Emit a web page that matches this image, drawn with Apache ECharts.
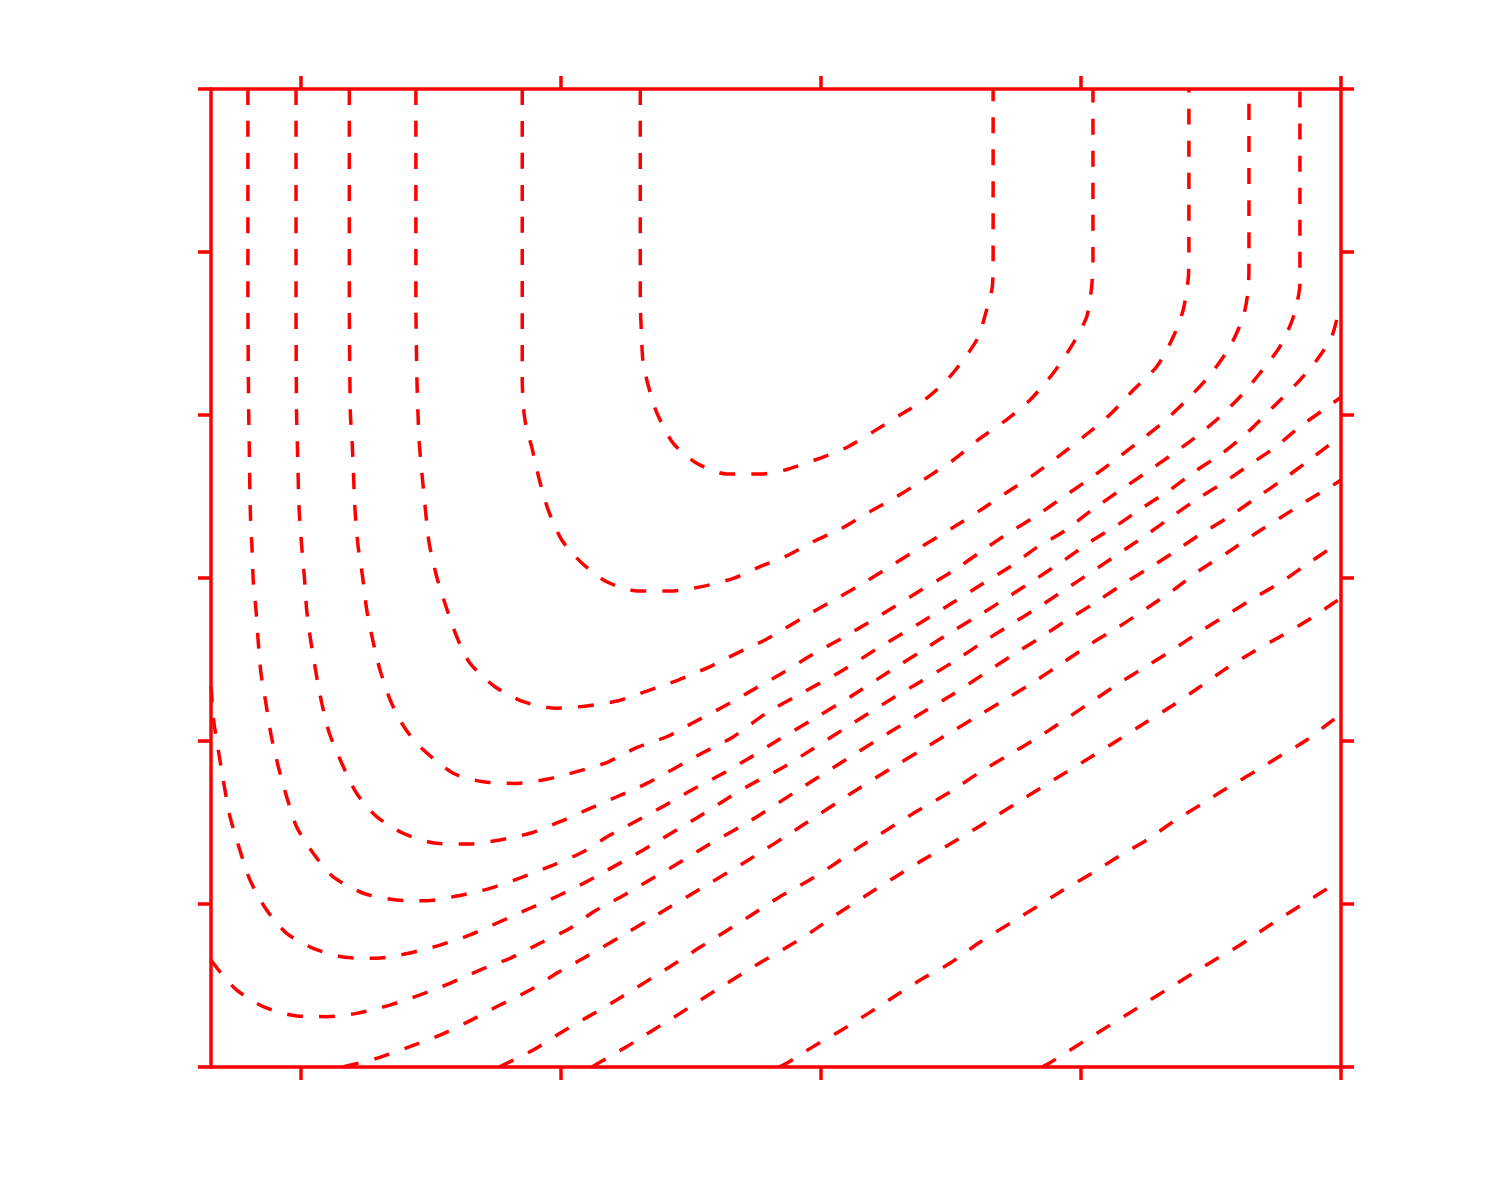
<!DOCTYPE html>
<html>
<head>
<meta charset="utf-8">
<script src="https://cdn.jsdelivr.net/npm/echarts@6/dist/echarts.min.js"></script>
<style>
html,body{margin:0;padding:0;background:#ffffff;}
#chart{width:1500px;height:1200px;}
</style>
</head>
<body>
<div id="chart"></div>
<script>
// Axis ranges and tick values (no tick labels are shown in the reference)
var xMin = 0.654, xMax = 5;
var xTickValues = [1, 2, 3, 4, 5];
var yMin = 0, yMax = 6, yInterval = 1;

// Contour lines, each as [x, y] points
var contour1 = [[2.305,6],[2.305,4.706],[2.310,4.479],[2.315,4.337],[2.333,4.196],[2.369,4.012],[2.432,3.826],[2.522,3.704],[2.637,3.638],[2.765,3.638],[2.862,3.663],[2.977,3.724],[3.092,3.796],[3.201,3.898],[3.304,4.0],[3.407,4.104],[3.496,4.235],[3.599,4.460],[3.637,4.644],[3.659,4.787],[3.662,4.951],[3.662,6]];
var contour2 = [[1.851,6],[1.851,4.215],[1.858,4.012],[1.869,3.908],[1.887,3.806],[1.917,3.601],[1.951,3.417],[2.003,3.233],[2.080,3.092],[2.176,2.977],[2.297,2.920],[2.419,2.920],[2.541,2.947],[2.663,2.998],[2.772,3.074],[2.862,3.131],[2.970,3.223],[3.080,3.305],[3.188,3.407],[3.291,3.499],[3.393,3.601],[3.509,3.724],[3.604,3.847],[3.717,3.975],[3.804,4.092],[3.893,4.256],[3.970,4.440],[4.022,4.603],[4.041,4.787],[4.046,4.951],[4.046,6]];
var contour3 = [[1.442,6],[1.442,4.706],[1.446,4.215],[1.450,4.012],[1.455,3.828],[1.470,3.560],[1.480,3.397],[1.493,3.213],[1.522,3.008],[1.558,2.824],[1.599,2.640],[1.650,2.477],[1.746,2.333],[1.855,2.241],[1.983,2.201],[2.099,2.215],[2.220,2.247],[2.336,2.309],[2.451,2.374],[2.567,2.452],[2.676,2.538],[2.785,2.620],[2.862,2.691],[2.970,2.793],[3.073,2.885],[3.182,2.988],[3.285,3.090],[3.387,3.192],[3.503,3.305],[3.620,3.423],[3.723,3.534],[3.826,3.642],[3.926,3.761],[4.022,3.882],[4.114,4.006],[4.201,4.153],[4.291,4.296],[4.355,4.480],[4.393,4.644],[4.413,4.848],[4.415,5.012],[4.415,6]];
var contour4 = [[1.186,6],[1.186,4.706],[1.190,4.012],[1.197,3.828],[1.208,3.417],[1.220,3.192],[1.237,3.008],[1.253,2.804],[1.276,2.620],[1.304,2.436],[1.346,2.241],[1.400,2.078],[1.464,1.955],[1.586,1.802],[1.701,1.750],[1.830,1.740],[1.945,1.765],[2.060,1.812],[2.176,1.868],[2.293,1.961],[2.407,2.026],[2.515,2.118],[2.624,2.210],[2.733,2.309],[2.850,2.415],[2.970,2.534],[3.074,2.624],[3.182,2.726],[3.285,2.826],[3.387,2.928],[3.504,3.039],[3.620,3.167],[3.723,3.278],[3.827,3.380],[3.930,3.495],[4.032,3.607],[4.131,3.724],[4.227,3.842],[4.323,3.965],[4.407,4.092],[4.496,4.245],[4.573,4.419],[4.624,4.603],[4.643,4.767],[4.646,4.951],[4.646,6]];
var contour5 = [[0.981,6],[0.981,4.706],[0.983,4.012],[0.986,3.828],[0.993,3.417],[1.003,3.192],[1.013,3.008],[1.022,2.804],[1.037,2.620],[1.058,2.417],[1.080,2.233],[1.109,2.049],[1.157,1.863],[1.214,1.679],[1.291,1.536],[1.393,1.434],[1.522,1.372],[1.650,1.368],[1.765,1.393],[1.881,1.434],[1.996,1.505],[2.099,1.577],[2.215,1.658],[2.330,1.740],[2.438,1.833],[2.547,1.929],[2.662,2.025],[2.785,2.166],[2.919,2.288],[3.073,2.423],[3.227,2.577],[3.381,2.724],[3.503,2.845],[3.620,2.963],[3.727,3.069],[3.830,3.188],[3.932,3.284],[4.037,3.411],[4.137,3.523],[4.237,3.632],[4.338,3.744],[4.435,3.857],[4.528,3.980],[4.612,4.112],[4.688,4.256],[4.765,4.419],[4.817,4.603],[4.842,4.808],[4.842,4.951],[4.842,6]];
var contour6 = [[0.796,6],[0.796,4.706],[0.799,4.012],[0.801,3.828],[0.805,3.417],[0.812,3.172],[0.817,2.969],[0.827,2.804],[0.836,2.601],[0.846,2.417],[0.865,2.233],[0.885,2.037],[0.913,1.842],[0.945,1.658],[0.983,1.474],[1.047,1.311],[1.124,1.167],[1.240,1.066],[1.368,1.025],[1.483,1.020],[1.599,1.049],[1.727,1.096],[1.849,1.164],[1.970,1.239],[2.086,1.321],[2.182,1.417],[2.290,1.509],[2.396,1.601],[2.503,1.699],[2.612,1.791],[2.720,1.891],[2.823,1.994],[2.958,2.123],[3.112,2.270],[3.265,2.429],[3.381,2.546],[3.503,2.671],[3.620,2.783],[3.727,2.891],[3.830,2.998],[3.936,3.110],[4.037,3.223],[4.140,3.325],[4.242,3.437],[4.342,3.540],[4.442,3.658],[4.543,3.765],[4.637,3.888],[4.740,4.051],[4.830,4.194],[4.907,4.337],[4.964,4.480],[4.990,4.624],[5,4.681]];
var contour7 = [[0.654,2.337],[0.665,2.118],[0.682,1.945],[0.701,1.761],[0.727,1.536],[0.765,1.331],[0.804,1.147],[0.868,0.963],[0.945,0.820],[1.047,0.728],[1.169,0.673],[1.291,0.667],[1.413,0.698],[1.535,0.748],[1.650,0.810],[1.765,0.891],[1.881,0.974],[1.996,1.055],[2.099,1.137],[2.208,1.234],[2.313,1.328],[2.419,1.429],[2.522,1.528],[2.619,1.626],[2.720,1.724],[2.850,1.834],[2.968,1.951],[3.112,2.098],[3.265,2.252],[3.381,2.362],[3.503,2.479],[3.620,2.603],[3.727,2.712],[3.830,2.814],[3.936,2.926],[4.037,3.033],[4.143,3.147],[4.246,3.258],[4.349,3.376],[4.451,3.489],[4.554,3.591],[4.657,3.704],[4.750,3.806],[4.842,3.928],[4.932,4.031],[5,4.110]];
var contour8 = [[0.654,0.656],[0.688,0.585],[0.753,0.472],[0.855,0.370],[0.983,0.313],[1.099,0.309],[1.214,0.329],[1.342,0.380],[1.458,0.442],[1.573,0.513],[1.688,0.595],[1.804,0.667],[1.919,0.759],[2.035,0.851],[2.124,0.951],[2.230,1.043],[2.338,1.144],[2.443,1.242],[2.550,1.347],[2.727,1.509],[2.919,1.706],[3.112,1.902],[3.265,2.055],[3.381,2.166],[3.503,2.282],[3.620,2.405],[3.727,2.517],[3.830,2.620],[3.936,2.732],[4.041,2.834],[4.146,2.947],[4.250,3.049],[4.351,3.152],[4.455,3.264],[4.560,3.366],[4.663,3.479],[4.765,3.591],[4.862,3.704],[4.955,3.816],[5,3.865]];
var contour9 = [[1.162,0],[1.176,0.006],[1.291,0.053],[1.419,0.125],[1.535,0.196],[1.643,0.278],[1.765,0.380],[1.881,0.472],[1.983,0.575],[2.086,0.667],[2.227,0.798],[2.381,0.945],[2.535,1.092],[2.727,1.276],[2.919,1.472],[3.112,1.675],[3.265,1.828],[3.381,1.939],[3.503,2.057],[3.620,2.170],[3.727,2.272],[3.830,2.374],[3.936,2.487],[4.041,2.599],[4.146,2.701],[4.253,2.814],[4.355,2.926],[4.458,3.049],[4.560,3.152],[4.663,3.264],[4.765,3.368],[4.868,3.472],[4.964,3.564],[5,3.601]];
var contour10 = [[1.762,0],[1.778,0.012],[1.893,0.104],[1.996,0.207],[2.105,0.309],[2.214,0.411],[2.317,0.513],[2.419,0.615],[2.528,0.728],[2.631,0.830],[2.733,0.933],[2.842,1.045],[2.945,1.137],[3.047,1.239],[3.150,1.352],[3.253,1.454],[3.355,1.556],[3.496,1.687],[3.605,1.802],[3.715,1.908],[3.830,2.017],[3.936,2.129],[4.041,2.241],[4.146,2.354],[4.249,2.456],[4.351,2.558],[4.458,2.671],[4.560,2.773],[4.663,2.875],[4.772,2.977],[4.874,3.090],[4.970,3.192],[5,3.221]];
var contour11 = [[2.119,0],[2.143,0.023],[2.253,0.125],[2.355,0.227],[2.458,0.329],[2.567,0.442],[2.669,0.544],[2.772,0.646],[2.862,0.728],[2.964,0.830],[3.067,0.943],[3.176,1.055],[3.278,1.158],[3.381,1.260],[3.496,1.368],[3.605,1.472],[3.765,1.632],[3.919,1.785],[4.035,1.899],[4.143,2.006],[4.253,2.118],[4.355,2.221],[4.458,2.333],[4.560,2.446],[4.663,2.548],[4.765,2.640],[4.874,2.742],[4.970,2.845],[5,2.877]];
var contour12 = [[2.838,0],[2.868,0.023],[2.970,0.125],[3.080,0.227],[3.182,0.329],[3.291,0.442],[3.393,0.544],[3.496,0.636],[3.605,0.759],[3.727,0.882],[3.830,0.983],[3.932,1.086],[4.041,1.188],[4.143,1.290],[4.253,1.393],[4.355,1.505],[4.458,1.607],[4.560,1.710],[4.669,1.812],[4.772,1.914],[4.868,2.006],[4.970,2.129],[5,2.153]];
var contour13 = [[3.850,0],[3.881,0.026],[3.983,0.129],[4.086,0.231],[4.188,0.333],[4.297,0.442],[4.400,0.544],[4.503,0.646],[4.612,0.748],[4.714,0.857],[4.817,0.963],[4.919,1.066],[5,1.147]];

var contours = [contour1, contour2, contour3, contour4, contour5, contour6, contour7,
                contour8, contour9, contour10, contour11, contour12, contour13];

var RED = '#ff0000';
var axisLine = { show: true, onZero: false, lineStyle: { color: RED, width: 3.5 } };
var axisTick = { show: true, inside: false, length: 13, lineStyle: { color: RED, width: 3.5 } };

function xAxisDef(pos) {
  return {
    type: 'value', position: pos, min: xMin, max: xMax,
    axisLine: axisLine,
    axisTick: Object.assign({ customValues: xTickValues }, axisTick),
    axisLabel: { show: false },
    splitLine: { show: false }
  };
}
function yAxisDef(pos) {
  return {
    type: 'value', position: pos, min: yMin, max: yMax, interval: yInterval,
    axisLine: axisLine,
    axisTick: axisTick,
    axisLabel: { show: false },
    splitLine: { show: false }
  };
}

var chart = echarts.init(document.getElementById('chart'), null, { renderer: 'canvas' });
chart.setOption({
  animation: false,
  backgroundColor: '#ffffff',
  grid: { left: 211, right: 159, top: 89, bottom: 133, containLabel: false },
  xAxis: [xAxisDef('bottom'), xAxisDef('top')],
  yAxis: [yAxisDef('left'), yAxisDef('right')],
  series: contours.map(function (c, i) {
    return {
      type: 'line',
      name: 'contour' + (i + 1),
      data: c,
      xAxisIndex: 0, yAxisIndex: 0,
      showSymbol: false,
      symbol: 'none',
      smooth: 0.25,
      clip: true,
      silent: true,
      lineStyle: { color: RED, width: 3.5, type: [16, 16] }
    };
  })
});
</script>
</body>
</html>
